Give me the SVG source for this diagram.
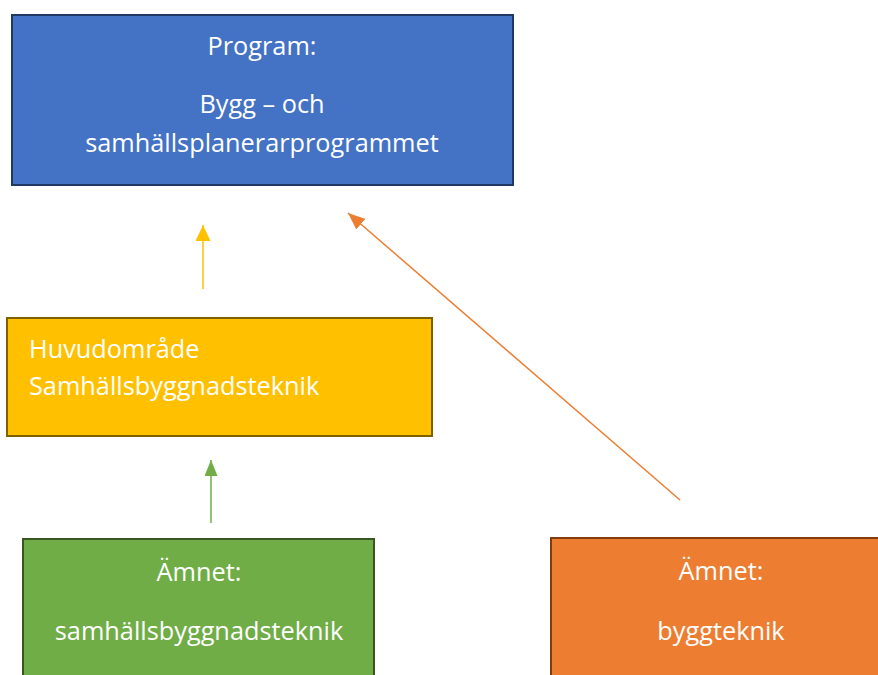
<svg xmlns="http://www.w3.org/2000/svg" width="878" height="675" viewBox="0 0 878 675">
<style>
text{font-family:"Open Sans","Noto Sans",sans-serif;font-size:25.3px;fill:#ffffff}
.c{text-anchor:middle}
.box{stroke-width:2}
.con{stroke-width:1.5;fill:none}
</style>
<defs>
<marker id="aY" markerUnits="userSpaceOnUse" markerWidth="16" markerHeight="15" refX="16" refY="7.5" orient="auto"><path d="M0,0 L16,7.5 L0,15 z" fill="#ffc000"/></marker>
<marker id="aG" markerUnits="userSpaceOnUse" markerWidth="16" markerHeight="13" refX="16" refY="6.5" orient="auto"><path d="M0,0 L16,6.5 L0,13 z" fill="#70ad47"/></marker>
<marker id="aO" markerUnits="userSpaceOnUse" markerWidth="17" markerHeight="14" refX="17" refY="7" orient="auto"><path d="M0,0 L17,7 L0,14 z" fill="#ed7d31"/></marker>
</defs>
<rect width="878" height="675" fill="#ffffff"/>
<g id="program">
<rect class="box" x="12" y="15" width="501" height="170" fill="#4472c4" stroke="#1f3864"/>
<text class="c" x="262" y="55">Program:</text>
<text class="c" x="262" y="113">Bygg – och</text>
<text class="c" x="262" y="152">samhällsplanerarprogrammet</text>
</g>
<g id="huvudomrade">
<rect class="box" x="7" y="318" width="425" height="118" fill="#ffc000" stroke="#7f6000"/>
<text x="29" y="358">Huvudområde</text>
<text x="29" y="395">Samhällsbyggnadsteknik</text>
</g>
<g id="amne-samhallsbyggnadsteknik">
<rect class="box" x="23" y="539" width="351" height="150" fill="#70ad47" stroke="#385723"/>
<text class="c" x="199" y="581">Ämnet:</text>
<text class="c" x="199" y="640">samhällsbyggnadsteknik</text>
</g>
<g id="amne-byggteknik">
<rect class="box" x="551" y="538" width="340" height="150" fill="#ed7d31" stroke="#843c0c"/>
<text class="c" x="721" y="580">Ämnet:</text>
<text class="c" x="721" y="640">byggteknik</text>
</g>
<g id="connectors">
<line class="con" x1="203" y1="289" x2="203" y2="225" stroke="#ffc000" marker-end="url(#aY)"/>
<line class="con" x1="211" y1="523" x2="211" y2="460" stroke="#70ad47" marker-end="url(#aG)"/>
<line class="con" x1="680" y1="500" x2="348" y2="213" stroke="#ed7d31" marker-end="url(#aO)"/>
</g>
</svg>
